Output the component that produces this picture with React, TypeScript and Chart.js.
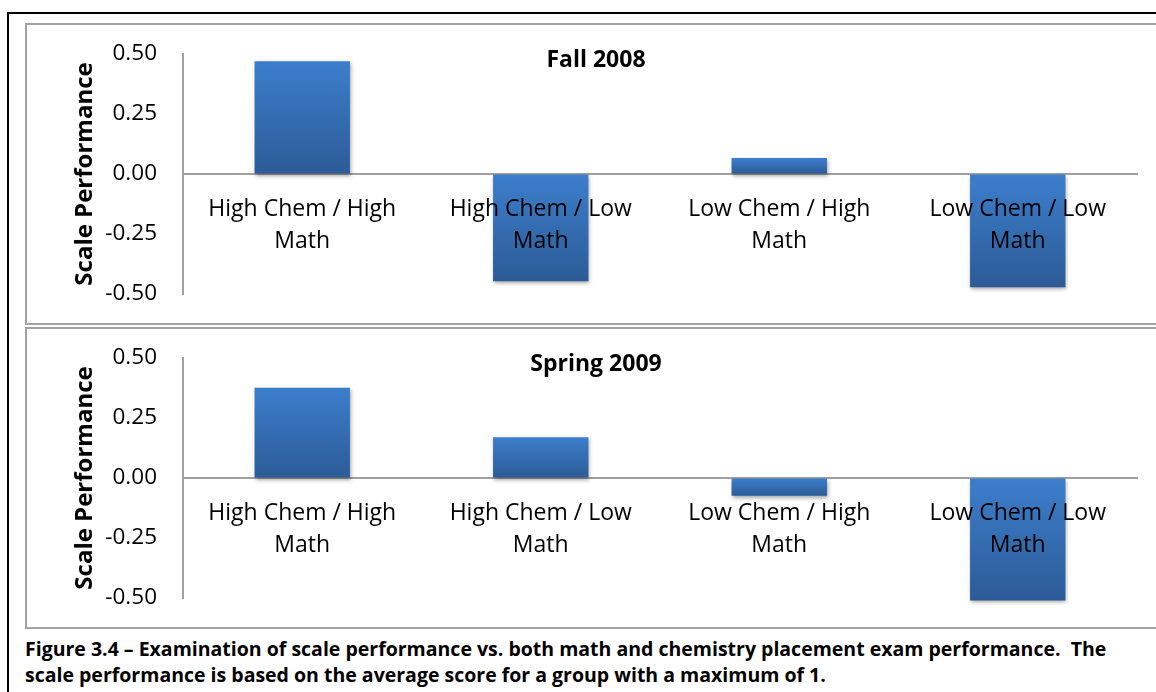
import React, { useEffect, useRef } from "react";
import { Chart, registerables } from "chart.js";

Chart.register(...registerables);

const categories: string[][] = [
  ["High Chem / High", "Math"],
  ["High Chem / Low", "Math"],
  ["Low Chem / High", "Math"],
  ["Low Chem / Low", "Math"],
];
const fallValues = [0.47, -0.447, 0.067, -0.472];
const springValues = [0.376, 0.17, -0.074, -0.51];
const yMin = -0.5;
const yMax = 0.5;
const yStep = 0.25;
const yTitle = "Scale Performance";
const fallTitle = "Fall 2008";
const springTitle = "Spring 2009";
const captionLines = [
  "Figure 3.4 \u2013 Examination of scale performance vs. both math and chemistry placement exam performance.  The",
  "scale performance is based on the average score for a group with a maximum of 1.",
];

const FONT = "'Open Sans', Lato, sans-serif";
const CANVAS_W = 1139;
const CANVAS_H = 298;

function ChartPanel({ title, values, top }: { title: string; values: number[]; top: number }) {
  const ref = useRef<HTMLCanvasElement | null>(null);
  useEffect(() => {
    if (!ref.current) return;
    const titlePlugin = {
      id: "panelTitle",
      afterDraw(chart: any) {
        const c = chart.ctx;
        c.save();
        c.font = `bold 23px ${FONT}`;
        c.fillStyle = "#000";
        c.textAlign = "center";
        c.textBaseline = "middle";
        c.fillText(title, 569, 35);
        c.restore();
      },
    };
    const shadowPlugin = {
      id: "barShadow",
      beforeDatasetsDraw(chart: any) {
        const c = chart.ctx;
        c.save();
        c.shadowColor = "rgba(0,0,0,0.35)";
        c.shadowBlur = 4;
        c.shadowOffsetX = 1;
        c.shadowOffsetY = 2;
      },
      afterDatasetsDraw(chart: any) {
        chart.ctx.restore();
      },
    };
    const chart = new Chart(ref.current, {
      type: "bar",
      data: {
        labels: categories,
        datasets: [
          {
            data: values,
            clip: false,
            categoryPercentage: 0.4,
            barPercentage: 1,
            borderWidth: 0,
            backgroundColor: (ctx: any) => {
              const ch = ctx.chart;
              const ys = ch.scales && ch.scales.y;
              const v = ctx.raw;
              if (!ys || typeof v !== "number" || !ch.chartArea) return "#3569ad";
              const p0 = ys.getPixelForValue(0);
              const p1 = ys.getPixelForValue(v);
              const g = ch.ctx.createLinearGradient(0, Math.min(p0, p1), 0, Math.max(p0, p1) + 0.01);
              g.addColorStop(0, "#3c7ecc");
              g.addColorStop(1, "#2c5b97");
              return g;
            },
          } as any,
        ],
      },
      options: {
        animation: false,
        responsive: false,
        maintainAspectRatio: false,
        layout: { padding: { top: 29, bottom: 29, right: 29, left: 0 } },
        plugins: { legend: { display: false }, tooltip: { enabled: false }, title: { display: false } },
        scales: {
          x: {
            type: "category",
            position: { y: 0 } as any,
            offset: true,
            grid: { display: false, drawTicks: false },
            border: { display: true, color: "#a0a0a0", width: 2 },
            ticks: {
              z: 1,
              color: "#000",
              padding: 19,
              maxRotation: 0,
              autoSkip: false,
              font: { family: FONT, size: 23, lineHeight: "32.5px" as any },
            },
          },
          y: {
            min: yMin,
            max: yMax,
            grid: {
              display: true,
              drawOnChartArea: false,
              drawTicks: true,
              tickLength: 26,
              color: "rgba(0,0,0,0)",
            },
            border: { display: true, color: "#a0a0a0", width: 2 },
            afterFit(scale: any) {
              scale.width = 156;
            },
            ticks: {
              stepSize: yStep,
              color: "#000",
              padding: 0,
              font: { family: FONT, size: 22.5 },
              callback: (v: any) => Number(v).toFixed(2),
            },
            title: {
              display: true,
              text: yTitle,
              color: "#000",
              padding: { top: 43.6, bottom: 0 },
              font: { family: FONT, size: 24, weight: "bold" },
            },
          },
        },
      },
      plugins: [titlePlugin, shadowPlugin],
    });
    return () => chart.destroy();
  }, [title, values]);

  return (
    <div
      style={{
        position: "absolute",
        left: 25,
        top,
        width: CANVAS_W,
        height: CANVAS_H,
        border: "2px solid #a3a3a3",
        background: "#fff",
      }}
    >
      <canvas ref={ref} width={CANVAS_W} height={CANVAS_H} style={{ display: "block", width: CANVAS_W, height: CANVAS_H }} />
    </div>
  );
}

export default function App() {
  return (
    <div
      style={{
        position: "fixed",
        left: 0,
        top: 0,
        width: 1156,
        height: 692,
        overflow: "hidden",
        background: "#fff",
      }}
    >
      <div
        style={{
          position: "absolute",
          left: 7,
          top: 12,
          width: 1300,
          height: 800,
          borderLeft: "2px solid #000",
          borderTop: "2px solid #000",
        }}
      />
      <ChartPanel title={fallTitle} values={fallValues} top={23} />
      <ChartPanel title={springTitle} values={springValues} top={327} />
      <div
        style={{
          position: "absolute",
          left: 25,
          top: 636,
          fontFamily: FONT,
          fontWeight: "bold",
          fontSize: 19.5,
          lineHeight: "26px",
          color: "#000",
          whiteSpace: "pre",
        }}
      >
        {captionLines[0]}
        <br />
        {captionLines[1]}
      </div>
    </div>
  );
}
